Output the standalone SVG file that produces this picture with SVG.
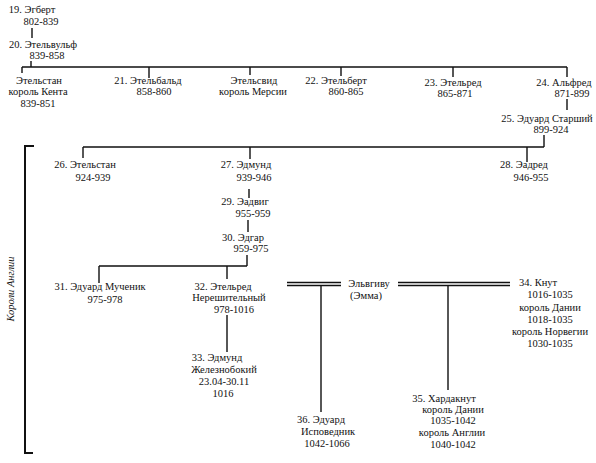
<svg xmlns="http://www.w3.org/2000/svg" width="596" height="463" viewBox="0 0 596 463">
<style>
text{font-family:"Liberation Serif","DejaVu Serif",serif;font-size:10.5px;fill:#111;text-anchor:middle}
.ln{stroke:#111;stroke-width:1.4;fill:none}
.br{stroke:#111;stroke-width:2;fill:none}
.it{font-style:italic}
</style>
<rect width="596" height="463" fill="#fff"/>
<g id="connectors">
<path class="ln" d="M32,28V38M31,61V67M22,67H567M22,67V73M149,67V78M250,67V75M341,67V76M453,67V77M567,67V77"/>
<path class="ln" d="M567,99V110M544,135V147M83,147H544M83,147V158M250,147V159M527,147V162"/>
<path class="ln" d="M249,189V198M248,220V232M247,255V266M99,266H247M99,266V283M227,266V279M227,315V352"/>
<path class="ln" d="M287,282.5H341M287,285.5H341M398,282.5H510M398,285.5H510M321,286V412M448,286V390"/>
<path class="br" d="M34,146H25V453H33"/>
</g>
<g id="n19"><text x="32" y="13">19. Эгберт</text><text x="41" y="25">802-839</text></g>
<g id="n20"><text x="43" y="48">20. Этельвульф</text><text x="47" y="59">839-858</text></g>
<g id="athelstan-kent"><text x="39" y="84">Этельстан</text><text x="38" y="95">король Кента</text><text x="38" y="107">839-851</text></g>
<g id="n21"><text x="148" y="84">21. Этельбальд</text><text x="154" y="95">858-860</text></g>
<g id="athelswith"><text x="254" y="84">Этельсвид</text><text x="253" y="95">король Мерсии</text></g>
<g id="n22"><text x="336" y="84">22. Этельберт</text><text x="346" y="95">860-865</text></g>
<g id="n23"><text x="453" y="86">23. Этельред</text><text x="455" y="97">865-871</text></g>
<g id="n24"><text x="564" y="86">24. Альфред</text><text x="572" y="97">871-899</text></g>
<g id="n25"><text x="547" y="122">25. Эдуард Старший</text><text x="551" y="133">899-924</text></g>
<g id="n26"><text x="85" y="168">26. Этельстан</text><text x="93" y="181">924-939</text></g>
<g id="n27"><text x="246" y="168">27. Эдмунд</text><text x="254" y="181">939-946</text></g>
<g id="n28"><text x="524" y="168">28. Эадред</text><text x="531" y="181">946-955</text></g>
<g id="n29"><text x="245" y="205">29. Эадвиг</text><text x="253" y="217">955-959</text></g>
<g id="n30"><text x="243" y="241">30. Эдгар</text><text x="251" y="252">959-975</text></g>
<g id="n31"><text x="100" y="290">31. Эдуард Мученик</text><text x="105" y="303">975-978</text></g>
<g id="n32"><text x="223" y="290">32. Этельред</text><text x="229" y="301">Нерешительный</text><text x="234" y="313">978-1016</text></g>
<g id="n33"><text x="217" y="361">33. Эдмунд</text><text x="224" y="373">Железнобокий</text><text x="224" y="385">23.04-30.11</text><text x="223" y="397">1016</text></g>
<g id="emma"><text x="369" y="287">Эльвгиву</text><text x="366" y="299">(Эмма)</text></g>
<g id="n34"><text x="538" y="286">34. Кнут</text><text x="550" y="298">1016-1035</text><text x="550" y="311">король Дании</text><text x="550" y="323">1018-1035</text><text x="550" y="335">король Норвегии</text><text x="550" y="347">1030-1035</text></g>
<g id="n35"><text x="444" y="402">35. Хардакнут</text><text x="453" y="413">король Дании</text><text x="453" y="424">1035-1042</text><text x="452" y="436">король Англии</text><text x="453" y="448">1040-1042</text></g>
<g id="n36"><text x="321" y="423">36. Эдуард</text><text x="328" y="435">Исповедник</text><text x="327" y="447">1042-1066</text></g>
<g id="label"><text class="it" transform="translate(14,289) rotate(-90)">Короли Англии</text></g>
</svg>
